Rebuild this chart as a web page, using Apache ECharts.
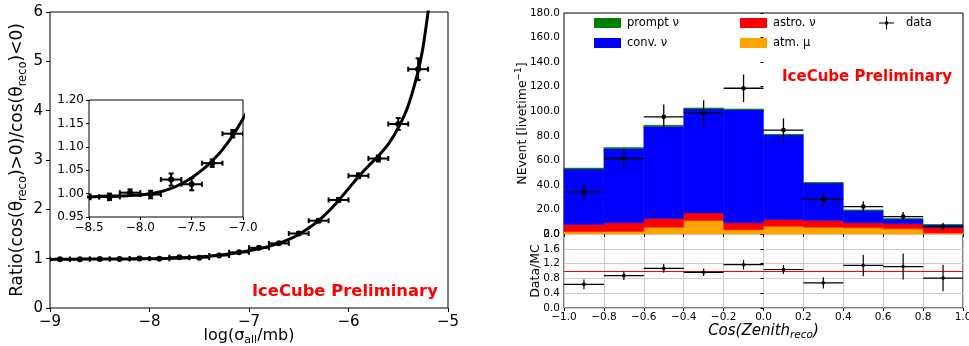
<!DOCTYPE html>
<html><head><meta charset="utf-8">
<script src="https://cdn.jsdelivr.net/npm/echarts@6/dist/echarts.min.js"></script>
<style>html,body{margin:0;padding:0;background:#fff}#c{width:969px;height:346px}</style>
</head><body><div id="c"></div>
<script>
// ---------- Left panel: ratio vs log(sigma) ----------
const ratioX    = [-8.9,-8.7,-8.5,-8.3,-8.1,-7.9,-7.7,-7.5,-7.3,-7.1,-6.9,-6.7,-6.5,-6.3,-6.1,-5.9,-5.7,-5.5,-5.3];
const ratioY    = [0.99,0.99,0.993,0.993,1.002,0.998,1.03,1.02,1.065,1.128,1.22,1.31,1.51,1.77,2.19,2.68,3.03,3.73,4.84];
const ratioYErr = [0.005,0.005,0.005,0.007,0.007,0.008,0.013,0.013,0.008,0.008,0.015,0.02,0.025,0.03,0.04,0.05,0.06,0.12,0.22];
const ratioXErr = [0.1,0.1,0.1,0.1,0.1,0.1,0.1,0.1,0.1,0.1,0.1,0.1,0.1,0.1,0.1,0.1,0.1,0.1,0.1];
const fitX = [-9.0,-8.9,-8.8,-8.7,-8.6,-8.5,-8.4,-8.3,-8.2,-8.1,-8.0,-7.9,-7.8,-7.7,-7.6,-7.5,-7.4,-7.3,-7.2,-7.1,
              -7.0,-6.9,-6.8,-6.7,-6.6,-6.5,-6.4,-6.3,-6.2,-6.1,-6.0,-5.9,-5.8,-5.7,-5.6,-5.5,-5.4,-5.3,-5.25,-5.2,-5.18];
const fitY = [0.985,0.988,0.99,0.991,0.992,0.993,0.994,0.995,0.995,0.996,0.997,1.0,1.004,1.011,1.021,1.034,1.05,1.07,1.094,1.124,
              1.16,1.2,1.25,1.31,1.39,1.49,1.62,1.77,1.96,2.18,2.42,2.66,2.88,3.08,3.32,3.65,4.1,4.8,5.3,6.0,6.3];

// ---------- Right panel: zenith histogram ----------
const binEdges = [-1.0,-0.8,-0.6,-0.4,-0.2,0.0,0.2,0.4,0.6,0.8,1.0];
const atmMu    = [1.8,2.0,5.5,11.0,3.4,6.3,5.5,5.0,4.2,0.8];
const astroNu  = [5.9,7.1,7.1,6.2,5.7,5.5,5.5,4.1,4.1,4.5];
const convNu   = [45.2,60.6,75.2,84.7,92.2,69.0,30.6,10.2,4.0,2.2];
const promptNu = [0.8,0.8,0.8,0.8,0.5,0.4,0.3,0.2,0.15,0.1];
const dataX    = [-0.9,-0.7,-0.5,-0.3,-0.1,0.1,0.3,0.5,0.7,0.9];
const dataXErr = [0.1,0.1,0.1,0.1,0.1,0.1,0.1,0.1,0.1,0.1];
const dataY    = [34.3,61.5,95.4,98.6,118.7,84.6,28.3,22.3,14.2,6.1];
const dataYErr = [6.1,7.7,10.1,10.4,11.2,9.6,5.4,4.3,3.7,3.0];
const dataMC    = [0.64,0.875,1.07,0.965,1.17,1.04,0.68,1.15,1.12,0.81];
const dataMCErr = [0.13,0.12,0.12,0.10,0.13,0.12,0.15,0.29,0.35,0.36];
const ratioRef = 1.0;

const FF = 'DejaVu Sans';
const minus = s => s.replace('-', '\u2212');

function errData(xs, ys, xe, ye) { return xs.map((x, i) => [x, ys[i], xe[i], ye[i]]); }
function errRender(cap, r, lw) {
  return function (p, api) {
    const x = api.value(0), y = api.value(1), xe = api.value(2), ye = api.value(3);
    const c = api.coord([x, y]), l = api.coord([x - xe, y]), rr = api.coord([x + xe, y]);
    const t = api.coord([x, y + ye]), b = api.coord([x, y - ye]);
    const st = { stroke: '#000', lineWidth: lw };
    const ch = [
      { type: 'line', shape: { x1: l[0], y1: c[1], x2: rr[0], y2: c[1] }, style: st },
      { type: 'line', shape: { x1: c[0], y1: t[1], x2: c[0], y2: b[1] }, style: st },
      { type: 'circle', shape: { cx: c[0], cy: c[1], r: r }, style: { fill: '#000' } }
    ];
    if (cap) {
      ch.push({ type: 'line', shape: { x1: l[0], y1: c[1] - cap, x2: l[0], y2: c[1] + cap }, style: st });
      ch.push({ type: 'line', shape: { x1: rr[0], y1: c[1] - cap, x2: rr[0], y2: c[1] + cap }, style: st });
      ch.push({ type: 'line', shape: { x1: c[0] - cap, y1: t[1], x2: c[0] + cap, y2: t[1] }, style: st });
      ch.push({ type: 'line', shape: { x1: c[0] - cap, y1: b[1], x2: c[0] + cap, y2: b[1] }, style: st });
    }
    return { type: 'group', children: ch };
  };
}
function histSeries(name, color, vals, below) {
  const data = vals.map((v, i) => [binEdges[i], binEdges[i + 1], below[i], below[i] + v]);
  return {
    type: 'custom', name: name, xAxisIndex: 2, yAxisIndex: 2, data: data,
    itemStyle: { color: color }, encode: { x: [0, 1], y: [2, 3] }, silent: true,
    renderItem: function (p, api) {
      const a = api.coord([api.value(0), api.value(3)]);
      const b = api.coord([api.value(1), api.value(2)]);
      return { type: 'rect', shape: { x: a[0], y: a[1], width: b[0] - a[0], height: b[1] - a[1] },
               style: { fill: color, stroke: color, lineWidth: 0.5 } };
    }
  };
}
const cum0 = binEdges.slice(0, -1).map(() => 0);
const cum1 = atmMu.map((v, i) => cum0[i] + v);
const cum2 = astroNu.map((v, i) => cum1[i] + v);
const cum3 = convNu.map((v, i) => cum2[i] + v);

const tickLbl = (size) => ({ fontFamily: FF, fontSize: size, color: '#000' });
const gridBox = { show: true, borderColor: '#000', borderWidth: 1, backgroundColor: '#fff', outerBoundsMode: 'none', containLabel: false };

const chart = echarts.init(document.getElementById('c'), null, { renderer: 'canvas' });
chart.setOption({
  animation: false,
  backgroundColor: '#fff',
  grid: [
    Object.assign({ left: 50, top: 12, width: 398, height: 296 }, gridBox),
    Object.assign({ left: 89, top: 100, width: 154, height: 117 }, gridBox),
    Object.assign({ left: 564, top: 13, width: 399, height: 221 }, gridBox),
    Object.assign({ left: 564, top: 234, width: 399, height: 74 }, gridBox)
  ],
  xAxis: [
    { gridIndex: 0, type: 'value', min: -9, max: -5, interval: 1,
      axisLine: { show: false }, splitLine: { show: false },
      axisTick: { show: true, length: 4, lineStyle: { color: '#000' } },
      axisLabel: Object.assign({ margin: 7, formatter: v => minus(String(v)) }, tickLbl(15)),
      name: 'log(σ{s|all}/mb)', nameLocation: 'middle', nameGap: 18, nameMoveOverlap: false,
      nameTextStyle: { fontFamily: FF, fontSize: 16, color: '#000', lineHeight: 20,
        rich: { s: { fontFamily: FF, fontSize: 11, verticalAlign: 'bottom', color: '#000' } } } },
    { gridIndex: 1, type: 'value', min: -8.5, max: -7.0, interval: 0.5,
      axisLine: { show: false }, splitLine: { show: false },
      axisTick: { show: true, length: 3, lineStyle: { color: '#000' } },
      axisLabel: Object.assign({ margin: 5, formatter: v => minus(v.toFixed(1)) }, tickLbl(12)) },
    { gridIndex: 2, type: 'value', min: -1, max: 1, interval: 0.2,
      axisLine: { show: false }, splitLine: { show: false },
      axisTick: { show: true, length: 3, lineStyle: { color: '#000' } },
      axisLabel: { show: false } },
    { gridIndex: 3, type: 'value', min: -1, max: 1, interval: 0.2,
      axisLine: { show: false },
      splitLine: { show: true, lineStyle: { color: '#cccccc', width: 1 } },
      axisTick: { show: true, length: 3, lineStyle: { color: '#000' } },
      axisLabel: Object.assign({ margin: 4, formatter: v => minus(v.toFixed(1)) }, tickLbl(10.5)),
      name: 'Cos(Zenith{s|reco})', nameLocation: 'middle', nameGap: 14, nameMoveOverlap: false,
      nameTextStyle: { fontFamily: FF, fontSize: 15, fontStyle: 'italic', color: '#000', lineHeight: 19,
        rich: { s: { fontFamily: FF, fontSize: 10.5, fontStyle: 'italic', verticalAlign: 'bottom', color: '#000' } } } }
  ],
  yAxis: [
    { gridIndex: 0, type: 'value', min: 0, max: 6, interval: 1,
      axisLine: { show: false }, splitLine: { show: false },
      axisTick: { show: true, length: 4, lineStyle: { color: '#000' } },
      axisLabel: Object.assign({ margin: 7 }, tickLbl(15)),
      name: 'Ratio(cos(θ{s|reco})>0)/cos(θ{s|reco})<0)', nameLocation: 'middle', nameRotate: 90, nameGap: 21,
      nameMoveOverlap: false,
      nameTextStyle: { fontFamily: FF, fontSize: 17, color: '#000', lineHeight: 22,
        rich: { s: { fontFamily: FF, fontSize: 11.5, verticalAlign: 'bottom', color: '#000' } } } },
    { gridIndex: 1, type: 'value', min: 0.95, max: 1.20, interval: 0.05,
      axisLine: { show: false }, splitLine: { show: false },
      axisTick: { show: true, length: 3, lineStyle: { color: '#000' } },
      axisLabel: Object.assign({ margin: 5, formatter: v => v.toFixed(2) }, tickLbl(12)) },
    { gridIndex: 2, type: 'value', min: 0, max: 180, interval: 20,
      axisLine: { show: false }, splitLine: { show: false },
      axisTick: { show: true, length: 3, lineStyle: { color: '#000' } },
      axisLabel: Object.assign({ margin: 4, formatter: v => v.toFixed(1) }, tickLbl(10.5)),
      name: 'NEvent [livetime{p|−1}]', nameLocation: 'middle', nameRotate: 90, nameGap: 32, nameMoveOverlap: false,
      nameTextStyle: { fontFamily: FF, fontSize: 12.5, color: '#000', lineHeight: 18,
        rich: { p: { fontFamily: FF, fontSize: 9, verticalAlign: 'top', color: '#000' } } } },
    { gridIndex: 3, type: 'value', min: 0, max: 2.0, interval: 0.4,
      axisLine: { show: false },
      splitLine: { show: true, lineStyle: { color: '#cccccc', width: 1 } },
      axisTick: { show: true, length: 3, lineStyle: { color: '#000' } },
      axisLabel: Object.assign({ margin: 4, formatter: v => v.toFixed(1) }, tickLbl(10.5)),
      name: 'Data/MC', nameLocation: 'middle', nameRotate: 90, nameGap: 22, nameMoveOverlap: false,
      nameTextStyle: { fontFamily: FF, fontSize: 12.5, color: '#000' } }
  ],
  legend: [
    { orient: 'vertical', left: 589, top: 11, itemWidth: 27, itemHeight: 10, itemGap: 6, icon: 'rect',
      selectedMode: false, data: ['prompt ν', 'conv. ν'],
      textStyle: { fontFamily: FF, fontSize: 11.5, color: '#000', padding: [0, 0, 0, 1], lineHeight: 14 } },
    { orient: 'vertical', left: 735, top: 11, itemWidth: 27, itemHeight: 10, itemGap: 6, icon: 'rect',
      selectedMode: false, data: ['astro. ν', 'atm. μ'],
      textStyle: { fontFamily: FF, fontSize: 11.5, color: '#000', padding: [0, 0, 0, 1], lineHeight: 14 } },
    { orient: 'vertical', left: 874, top: 11, itemWidth: 15, itemHeight: 13,
      selectedMode: false, data: [{ name: 'data', icon: 'path://M0,6H15V7H0Z M7,0H8V13H7Z M6,5H9V8H6Z' }],
      textStyle: { fontFamily: FF, fontSize: 11.5, color: '#000', padding: [0, 0, 0, 7], lineHeight: 14 } }
  ],
  graphic: [
    { type: 'text', left: 252, top: 284, z: 100,
      style: { text: 'IceCube Preliminary', fill: '#ff0000', font: 'bold 16.4px "DejaVu Sans"' } },
    { type: 'text', left: 782, top: 70, z: 100,
      style: { text: 'IceCube Preliminary', fill: '#ff0000', font: 'bold 15px "DejaVu Sans"' } }
  ],
  series: [
    { type: 'line', xAxisIndex: 0, yAxisIndex: 0, data: fitX.map((x, i) => [x, fitY[i]]),
      smooth: 0.3, showSymbol: false, clip: true, silent: true,
      lineStyle: { color: '#000', width: 3 }, z: 2 },
    { type: 'custom', xAxisIndex: 0, yAxisIndex: 0, data: errData(ratioX, ratioY, ratioXErr, ratioYErr),
      renderItem: errRender(2.5, 3, 2), clip: true, silent: true, z: 3 },
    { type: 'line', xAxisIndex: 1, yAxisIndex: 1, data: fitX.map((x, i) => [x, fitY[i]]),
      smooth: 0.3, showSymbol: false, clip: true, silent: true,
      lineStyle: { color: '#000', width: 3 }, z: 2 },
    { type: 'custom', xAxisIndex: 1, yAxisIndex: 1, data: errData(ratioX, ratioY, ratioXErr, ratioYErr),
      renderItem: errRender(2.5, 3, 2), clip: true, silent: true, z: 3 },
    histSeries('atm. μ', '#ffa500', atmMu, cum0),
    histSeries('astro. ν', '#ff0000', astroNu, cum1),
    histSeries('conv. ν', '#0000ff', convNu, cum2),
    histSeries('prompt ν', '#008000', promptNu, cum3),
    { type: 'custom', name: 'data', xAxisIndex: 2, yAxisIndex: 2, itemStyle: { color: '#000' },
      data: errData(dataX, dataY, dataXErr, dataYErr), renderItem: errRender(0, 2.3, 1.3), silent: true, z: 5 },
    { type: 'custom', xAxisIndex: 3, yAxisIndex: 3, itemStyle: { color: '#000' },
      data: errData(dataX, dataMC, dataXErr, dataMCErr), renderItem: errRender(0, 1.8, 1.2), silent: true, z: 5,
      markLine: { silent: true, symbol: 'none', label: { show: false }, animation: false,
        lineStyle: { color: '#ff0000', width: 1, type: 'solid' }, data: [{ yAxis: ratioRef }] } }
  ]
});
</script></body></html>
